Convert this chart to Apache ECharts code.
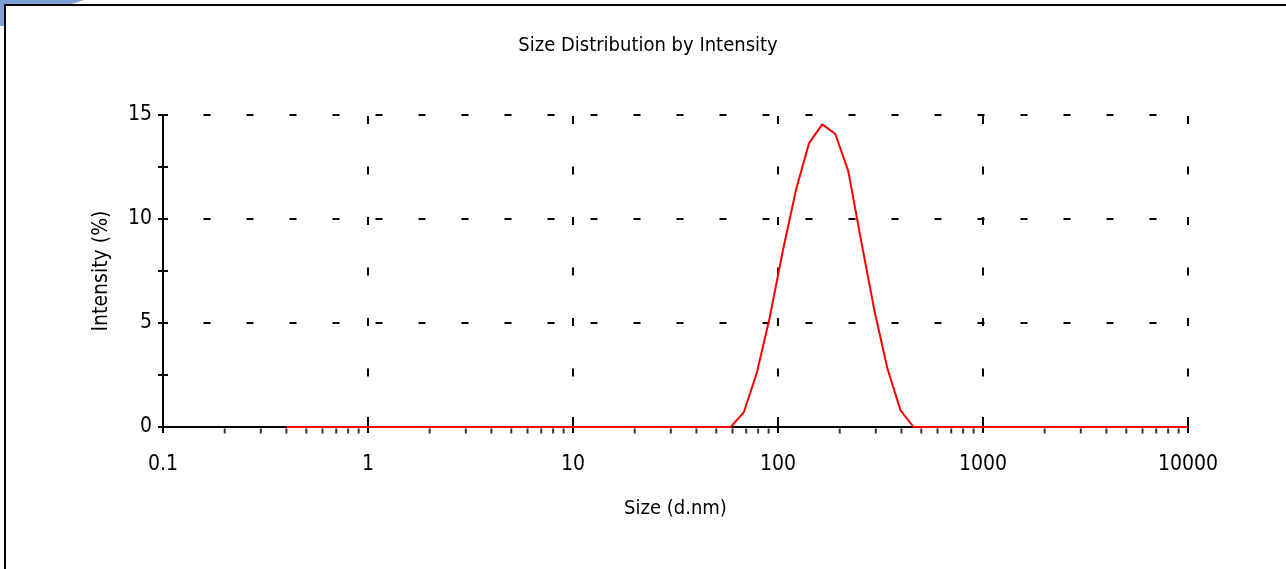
<!DOCTYPE html>
<html><head><meta charset="utf-8">
<script src="https://cdn.jsdelivr.net/npm/echarts@6/dist/echarts.min.js"></script>
<style>
html,body{margin:0;padding:0;background:#fff;overflow:hidden;width:1286px;height:569px}
#chart{position:absolute;left:0;top:0;width:1286px;height:569px}
#frame{position:absolute;left:4px;top:4px;width:1300px;height:600px;border-top:2px solid #000;border-left:2px solid #000;pointer-events:none}
#corner{position:absolute;left:0;top:0;width:90px;height:26px;background:#7d9fd3;
clip-path:polygon(0 0,84px 0,72px 4px,4px 4px,4px 26px,0 26px);pointer-events:none}
</style></head><body>
<div id="chart"></div><div id="frame"></div><div id="corner"></div>
<script>
const titleText = 'Size Distribution by Intensity';
const xAxisName = 'Size (d.nm)';
const yAxisName = 'Intensity (%)';
const xMin = 0.1, xMax = 10000;
const yMin = 0, yMax = 15, yMajor = 5, yMinor = 2.5;
const sizes = [0.4,0.4632,0.5365,0.6213,0.7195,0.8332,0.9649,1.117,1.294,1.499,1.736,2.01,2.328,2.696,3.122,3.615,4.187,4.849,5.615,6.503,7.531,8.721,
  10.1,11.7,13.54,15.69,18.17,21.04,24.36,28.21,32.67,37.84,43.82,50.75,58.77,68.06,78.82,91.28,
  105.7,122.4,141.8,164.2,190.1,220.2,255,295.3,342,396.1,458.7,531.2,615.1,712.4,825,955.4,
  1106,1281,1484,1718,1990,2305,2669,3091,3580,4145,4801,5560,6439,7456,8635,10000];
const intensity = [0,0,0,0,0,0,0,0,0,0,0,0,0,0,0,0,0,0,0,0,0,0,
  0,0,0,0,0,0,0,0,0,0,0,0,0,0.7,2.6,5.3,
  8.5,11.4,13.65,14.55,14.1,12.3,8.9,5.6,2.8,0.8,0,0,0,0,0,0,
  0,0,0,0,0,0,0,0,0,0,0,0,0,0,0,0];
const minorTickMultipliers = [2,3,4,5,6,7,8,9];
const decades = [0.1,1,10,100,1000];

const minorTicks = [];
decades.forEach(d => minorTickMultipliers.forEach(m => minorTicks.push([+(d*m).toPrecision(4), 0])));
const lineData = sizes.map((s,i) => [s, intensity[i]]);

const FONT = '"Liberation Sans Narrow","DejaVu Sans Condensed","Arial Narrow",sans-serif';
const chart = echarts.init(document.getElementById('chart'), null, {renderer:'canvas'});
const fmt = v => String(+Number(v).toPrecision(6));
chart.setOption({
  animation:false,
  backgroundColor:'transparent',
  title:{text:titleText,left:648,top:36,textAlign:'center',padding:0,
    textStyle:{fontFamily:FONT,fontSize:20,fontWeight:'normal',color:'#000'}},
  grid:{left:163,right:98,top:115,bottom:142,containLabel:false},
  xAxis:[{
    type:'log',logBase:10,min:xMin,max:xMax,
    name:xAxisName,nameLocation:'middle',nameGap:72,
    nameTextStyle:{fontFamily:FONT,fontSize:20,color:'#000'},
    axisLine:{show:true,lineStyle:{color:'#000',width:2}},
    axisTick:{show:true,length:6,lineStyle:{color:'#000',width:2}},
    minorTick:{show:false},
    axisLabel:{fontFamily:FONT,fontSize:21,color:'#000',margin:27,formatter:fmt},
    splitLine:{show:true,lineStyle:{color:'#000',width:2,type:[8,42.5],dashOffset:49.5}}
  },{
    type:'log',logBase:10,min:xMin,max:xMax,position:'bottom',
    axisLine:{show:false},axisLabel:{show:false},splitLine:{show:false},
    axisTick:{show:true,inside:true,length:10,lineStyle:{color:'#000',width:2}}
  }],
  yAxis:[{
    type:'value',min:yMin,max:yMax,interval:yMajor,position:'left',
    name:yAxisName,nameLocation:'middle',nameGap:51,
    nameTextStyle:{fontFamily:FONT,fontSize:21,color:'#000'},
    axisLine:{show:true,lineStyle:{color:'#000',width:2}},
    axisTick:{show:false},
    axisLabel:{fontFamily:FONT,fontSize:21,color:'#000',margin:11,padding:[3,0,0,0]},
    splitLine:{show:true,lineStyle:{color:'#000',width:2,type:[7,36],dashOffset:2.5}}
  },{
    type:'value',min:yMin,max:yMax,interval:yMinor,position:'left',
    axisLine:{show:false},axisLabel:{show:false},splitLine:{show:false},
    axisTick:{show:true,length:5,lineStyle:{color:'#000',width:2}}
  },{
    type:'value',min:yMin,max:yMax,interval:yMinor,position:'left',
    axisLine:{show:false},axisLabel:{show:false},splitLine:{show:false},
    axisTick:{show:true,inside:true,length:5,lineStyle:{color:'#000',width:2}}
  }],
  series:[{
    type:'line',xAxisIndex:0,yAxisIndex:0,data:lineData,
    showSymbol:false,symbol:'none',smooth:false,z:5,
    lineStyle:{color:'#ff0000',width:2}
  },{
    type:'scatter',xAxisIndex:0,yAxisIndex:0,data:minorTicks,
    symbol:'rect',symbolSize:[2,5],symbolOffset:[0,4],clip:false,silent:true,z:4,
    itemStyle:{color:'#000'}
  }]
});
</script>
</body></html>
